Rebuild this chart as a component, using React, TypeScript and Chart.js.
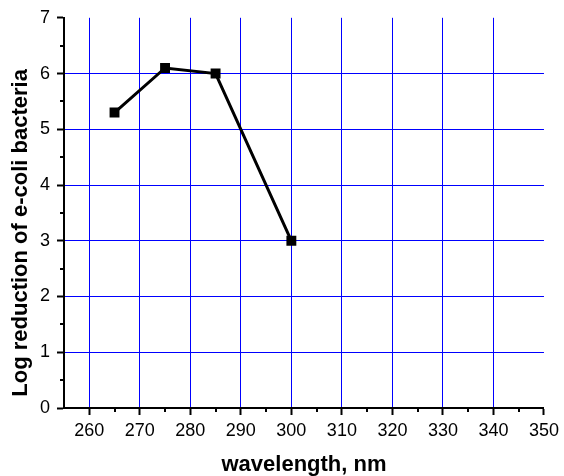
import React, { useEffect, useRef } from "react";
import { Chart, registerables } from "chart.js";

Chart.register(...registerables);

const wavelengths = [265, 275, 285, 300];
const logReduction = [5.3, 6.1, 6.0, 3.0];
const xTicks = [260, 270, 280, 290, 300, 310, 320, 330, 340, 350];
const yTicks = [0, 1, 2, 3, 4, 5, 6, 7];
const xMinorTicks = [265, 275, 285, 295, 305, 315, 325, 335, 345];
const yMinorTicks = [0.5, 1.5, 2.5, 3.5, 4.5, 5.5, 6.5];
const xTitle = "wavelength, nm";
const yTitle = "Log reduction of e-coli bacteria";

const FONT = "'Liberation Sans', Arial, sans-serif";

const decorPlugin = {
  id: "decor",
  afterDraw(chart: any) {
    const ctx = chart.ctx;
    const xs = chart.scales.x;
    const ys = chart.scales.y;
    const area = chart.chartArea;
    ctx.save();
    ctx.strokeStyle = "#000";
    ctx.lineWidth = 2;
    xMinorTicks.forEach((v) => {
      const px = Math.round(xs.getPixelForValue(v));
      ctx.beginPath();
      ctx.moveTo(px, area.bottom);
      ctx.lineTo(px, area.bottom + 4);
      ctx.stroke();
    });
    yMinorTicks.forEach((v) => {
      const py = Math.round(ys.getPixelForValue(v));
      ctx.beginPath();
      ctx.moveTo(area.left, py);
      ctx.lineTo(area.left - 4, py);
      ctx.stroke();
    });
    ctx.fillStyle = "#000";
    ctx.font = `bold 22px ${FONT}`;
    ctx.textAlign = "center";
    ctx.textBaseline = "alphabetic";
    ctx.fillText(xTitle, (area.left + area.right) / 2, area.bottom + 63);
    ctx.translate(area.left - 37, (area.top + area.bottom) / 2 + 20);
    ctx.rotate(-Math.PI / 2);
    ctx.fillText(yTitle, 0, 0);
    ctx.restore();
  },
};

export default function App() {
  const ref = useRef<HTMLCanvasElement | null>(null);

  useEffect(() => {
    if (!ref.current) return;
    const chart = new Chart(ref.current, {
      type: "line",
      data: {
        datasets: [
          {
            data: wavelengths.map((x, i) => ({ x, y: logReduction[i] })),
            borderColor: "#000",
            backgroundColor: "#000",
            borderWidth: 3,
            pointStyle: "rect",
            pointRadius: 7,
            pointBackgroundColor: "#000",
            pointBorderColor: "#000",
            pointBorderWidth: 0,
            tension: 0,
            fill: false,
          },
        ],
      },
      options: {
        animation: false,
        responsive: false,
        devicePixelRatio: 1,
        layout: { padding: { top: 17, right: 16, left: 0, bottom: 0 } },
        plugins: {
          legend: { display: false },
          tooltip: { enabled: false },
          title: { display: false },
        },
        scales: {
          x: {
            type: "linear",
            min: 255,
            max: 350,
            afterBuildTicks: (s: any) => {
              s.ticks = xTicks.map((v) => ({ value: v }));
            },
            afterFit: (s: any) => {
              s.height = 68;
            },
            ticks: {
              color: "#000",
              font: { family: FONT, size: 18 },
              padding: 5,
              maxRotation: 0,
              autoSkip: false,
            },
            grid: {
              color: (c: any) =>
                c.tick && c.tick.value === 350 ? "rgba(0,0,0,0)" : "#0000ff",
              lineWidth: 1,
              tickColor: "#000",
              tickWidth: 2,
              tickLength: 7,
            },
            border: { color: "#000", width: 2 },
          },
          y: {
            type: "linear",
            min: 0,
            max: 7,
            afterBuildTicks: (s: any) => {
              s.ticks = yTicks.map((v) => ({ value: v }));
            },
            afterFit: (s: any) => {
              s.width = 64;
            },
            ticks: {
              color: "#000",
              font: { family: FONT, size: 18 },
              padding: 7,
            },
            grid: {
              color: (c: any) =>
                c.tick && (c.tick.value === 0 || c.tick.value === 7)
                  ? "rgba(0,0,0,0)"
                  : "#0000ff",
              lineWidth: 1,
              tickColor: "#000",
              tickWidth: 2,
              tickLength: 7,
            },
            border: { color: "#000", width: 2 },
          },
        },
      },
      plugins: [decorPlugin],
    });
    return () => chart.destroy();
  }, []);

  return (
    <div style={{ position: "absolute", left: 0, top: 0, width: 564, height: 476, background: "#fff" }}>
      <canvas ref={ref} width={564} height={476} style={{ display: "block", width: 564, height: 476 }} />
    </div>
  );
}
